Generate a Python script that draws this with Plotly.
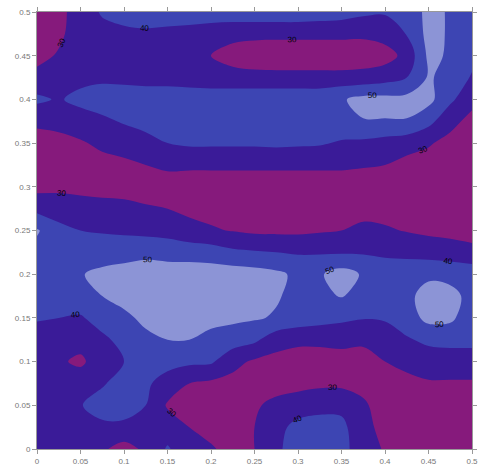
import plotly.graph_objects as go

# grid coordinates
x_vals = [0, 0.025, 0.05, 0.075, 0.1, 0.125, 0.15, 0.175, 0.2, 0.225, 0.25,
          0.275, 0.3, 0.325, 0.35, 0.375, 0.4, 0.425, 0.45, 0.475, 0.5]
y_vals = [0, 0.025, 0.05, 0.075, 0.1, 0.125, 0.15, 0.175, 0.2, 0.225, 0.25,
          0.275, 0.3, 0.325, 0.35, 0.375, 0.4, 0.425, 0.45, 0.475, 0.5]

# z values, one row per y (bottom to top)
row_y000 = [35, 34, 33, 31.5, 26, 32, 41, 34, 31, 27, 30, 38, 45, 46, 43, 35, 29, 26, 25, 25, 25]
row_y025 = [35, 35, 37, 38, 38, 36, 35, 30, 27, 26, 30, 37, 43, 44, 43, 32, 28, 26, 25, 25, 25]
row_y050 = [35, 35, 39.5, 44, 44, 40, 29, 27, 26, 26, 29, 32, 35, 37, 37, 31, 27, 25, 25, 25, 25]
row_y075 = [35, 34, 36, 39, 44, 42, 35, 30, 28, 27, 27, 27, 27, 28, 28, 28, 27, 27, 29, 29, 29]
row_y100 = [35, 31.5, 28, 36, 40, 44, 44, 42, 41.5, 33, 28.5, 27, 26, 26, 26, 26, 30, 33, 35, 35, 35]
row_y125 = [35, 33, 34, 38, 43, 48, 50, 50, 48, 45, 42, 34, 32, 32, 33, 32, 35, 39, 42, 43, 43]
row_y150 = [41, 40, 39, 44, 48, 52, 53, 53, 52, 52, 51, 49, 46, 44, 42, 40.5, 41, 45, 53, 52, 44]
row_y175 = [46, 46, 46, 50, 53, 54, 54, 54, 54, 54, 54, 51, 47, 48, 50.5, 47, 46, 47.5, 54, 53, 47]
row_y200 = [47, 47, 49.5, 52, 53, 54, 54, 55, 55, 55, 54, 52, 48, 49, 54, 49, 46, 47, 48, 47, 46]
row_y225 = [47, 46, 46, 46, 47, 48, 47, 46, 45, 42, 41, 40, 39, 39, 39, 39, 38, 37, 36, 35, 33]
row_y250 = [51, 43, 40, 39, 38, 37, 36, 33, 31, 29.5, 28, 28, 28, 29, 30, 32, 31, 29.5, 28, 27, 26]
row_y275 = [37, 35, 33, 33, 33, 31, 30, 28, 27, 26, 25, 25, 25, 25, 26, 27, 27, 26, 25, 25, 25]
row_y300 = [27, 28, 28, 27, 26, 26, 25, 24, 24, 24, 24, 24, 24, 24, 24, 24, 24, 24, 24, 24, 24]
row_y325 = [24, 24, 25, 27, 28, 30, 32, 32, 32, 32, 32, 32, 32, 32, 32, 31, 30, 27, 26, 24, 24]
row_y350 = [26, 27, 29, 32, 34, 37, 40, 41.5, 41.5, 41.5, 41.5, 42, 41.5, 41, 39, 38, 36, 34, 31, 27, 25]
row_y375 = [32, 33, 35, 38, 41, 43, 46, 46, 46, 46, 46, 46, 46, 46, 46, 49.5, 49.5, 49.5, 43, 33, 27]
row_y400 = [42, 39, 43, 45, 46, 46, 46, 46, 46, 46, 46, 46, 46, 46, 49, 53, 53, 53, 53, 42, 33]
row_y425 = [33, 35, 37, 38, 37, 36, 36, 35, 34, 34, 34, 34, 34, 34, 34, 34, 36, 40, 51, 47, 39]
row_y450 = [27, 31, 35, 37, 37, 36, 34, 32, 30, 26, 23, 22, 22, 22, 22, 24, 26, 33, 52, 49, 43]
row_y475 = [24, 28, 35, 37, 37, 38, 37, 36, 34, 33, 33, 33, 33, 33, 33, 32, 34, 40.5, 53, 49, 45]
row_y500 = [22, 27, 35, 41, 45, 46, 46, 46, 46, 46, 46, 46, 46, 45, 44, 42, 41, 43, 53, 49, 45]

z_rows = [row_y000, row_y025, row_y050, row_y075, row_y100, row_y125, row_y150,
          row_y175, row_y200, row_y225, row_y250, row_y275, row_y300, row_y325,
          row_y350, row_y375, row_y400, row_y425, row_y450, row_y475, row_y500]

contour_levels = [30, 40, 50]
tick_vals = [0, 0.05, 0.1, 0.15, 0.2, 0.25, 0.3, 0.35, 0.4, 0.45, 0.5]
tick_text = ["0", "0.05", "0.1", "0.15", "0.2", "0.25", "0.3", "0.35", "0.4", "0.45", "0.5"]

c_purple = "#861a7c"
c_indigo = "#3a1b98"
c_medium = "#3d45b3"
c_light = "#8c94d6"
colorscale = [[0, c_purple], [0.1667, c_purple], [0.1667, c_indigo], [0.5, c_indigo],
              [0.5, c_medium], [0.8333, c_medium], [0.8333, c_light], [1, c_light]]

fig = go.Figure(go.Contour(
    x=x_vals, y=y_vals, z=z_rows,
    autocontour=False,
    contours=dict(start=contour_levels[0], end=contour_levels[-1],
                  size=contour_levels[1] - contour_levels[0],
                  coloring="fill", showlines=True, showlabels=True,
                  labelfont=dict(size=8, color="#000", family="Liberation Sans, Arial")),
    line=dict(width=0, smoothing=1),
    colorscale=colorscale,
    showscale=False,
    hoverinfo="skip",
))

axis_common = dict(showgrid=False, zeroline=False, showline=True, mirror="ticks",
                   linecolor="#999", linewidth=1, ticks="outside", ticklen=4,
                   tickcolor="#999", tickvals=tick_vals, ticktext=tick_text,
                   tickfont=dict(size=8, color="#777", family="Liberation Sans, Arial"))

fig.update_layout(
    width=483, height=472,
    margin=dict(l=37, r=6, t=12, b=19),
    paper_bgcolor="white", plot_bgcolor="white",
    xaxis=dict(range=[0, 0.5], **axis_common),
    yaxis=dict(range=[0, 0.5], **axis_common),
)

fig.write_html("out.html",
               config={"displayModeBar": False, "staticPlot": True},
               post_script="document.body.style.margin='0px';document.body.style.overflow='hidden';")
